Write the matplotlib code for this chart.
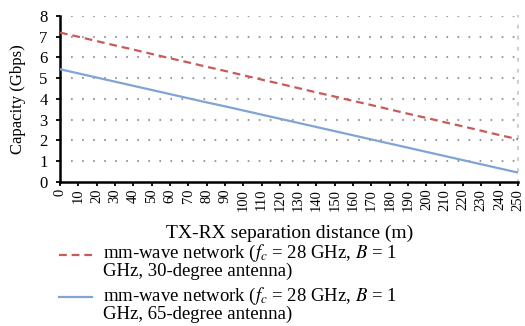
import matplotlib
matplotlib.use('Agg')
import matplotlib.pyplot as plt
from matplotlib.lines import Line2D

# 衬线字体，接近原图
plt.rcParams['font.family'] = ['Liberation Serif', 'DejaVu Serif']
plt.rcParams['mathtext.fontset'] = 'stix'

# 数据
distance = [0, 10, 20, 30, 40, 50, 60, 70, 80, 90, 100, 110, 120, 130, 140, 150, 160, 170, 180, 190, 200,
            210, 220, 230, 240, 250]
cap_30deg = [7.20, 7.00, 6.79, 6.58, 6.38, 6.17, 5.96, 5.76, 5.55, 5.35, 5.14, 4.93, 4.73, 4.52, 4.31, 4.11,
             3.90, 3.70, 3.49, 3.28, 3.08, 2.87, 2.67, 2.46, 2.25, 2.05]
cap_65deg = [5.43, 5.23, 5.03, 4.83, 4.63, 4.43, 4.23, 4.03, 3.83, 3.64, 3.44, 3.24, 3.04, 2.84, 2.64, 2.44,
             2.24, 2.04, 1.84, 1.64, 1.44, 1.24, 1.04, 0.84, 0.64, 0.44]
y_ticks = [0, 1, 2, 3, 4, 5, 6, 7, 8]
label_30deg = 'mm-wave network ($f_c$ = 28 GHz, $B$ = 1\nGHz, 30-degree antenna)'
label_65deg = 'mm-wave network ($f_c$ = 28 GHz, $B$ = 1\nGHz, 65-degree antenna)'

red = '#C95A5A'
blue = '#80A4D4'

W, H = 525, 326
fig = plt.figure(figsize=(W / 100, H / 100), dpi=100)
ax = fig.add_axes([60 / W, 1 - 181.7 / H, 458 / W, (181.7 - 16) / H])

# 水平点状网格线
for y in y_ticks[1:]:
    ax.axhline(y, color='#9a9a9a', linewidth=1.5, linestyle=(0, (0.8, 4.5)), zorder=1)

ax.plot(distance, cap_30deg, color=red, linewidth=1.6, linestyle=(0, (3.5, 2.2)), zorder=3)
ax.plot(distance, cap_65deg, color=blue, linewidth=1.6, zorder=3)

ax.set_xlim(0, 250)
ax.set_ylim(0, 8)
ax.set_xticks(distance)
ax.set_xticklabels([str(d) for d in distance], rotation=90, fontsize=10.5)
ax.set_yticks(y_ticks)
ax.set_yticklabels([str(v) for v in y_ticks], fontsize=12)
ax.tick_params(axis='x', direction='out', length=3, width=1.3, pad=2)
ax.tick_params(axis='y', direction='out', length=3, width=1.3, pad=6)

ax.spines['top'].set_visible(False)
ax.spines['right'].set_color('#cfcfcf')
ax.spines['right'].set_linestyle((0, (0.8, 4.5)))
ax.spines['right'].set_linewidth(1.5)
ax.spines['left'].set_linewidth(1.8)
ax.spines['bottom'].set_linewidth(1.8)

# 坐标轴标题
fig.text(18 / W, 1 - 99 / H, 'Capacity (Gbps)', rotation=90, ha='center', va='center', fontsize=12)
fig.text(290 / W, 1 - 233 / H, 'TX-RX separation distance (m)', ha='center', va='center', fontsize=14)

# 图例（手动绘制，句柄对齐第一行）
fig.add_artist(Line2D([59 / W, 92 / W], [1 - 255 / H, 1 - 255 / H], color=red, linewidth=1.6,
                      linestyle=(0, (3.5, 2.2)), transform=fig.transFigure))
fig.add_artist(Line2D([59 / W, 92 / W], [1 - 297 / H, 1 - 297 / H], color=blue, linewidth=1.6,
                      transform=fig.transFigure))
fig.text(103 / W, 1 - 261.5 / H, label_30deg, ha='left', va='center', fontsize=13.5, linespacing=0.92)
fig.text(103 / W, 1 - 304.5 / H, label_65deg, ha='left', va='center', fontsize=13.5, linespacing=0.92)

fig.savefig('out.png', dpi=100)
